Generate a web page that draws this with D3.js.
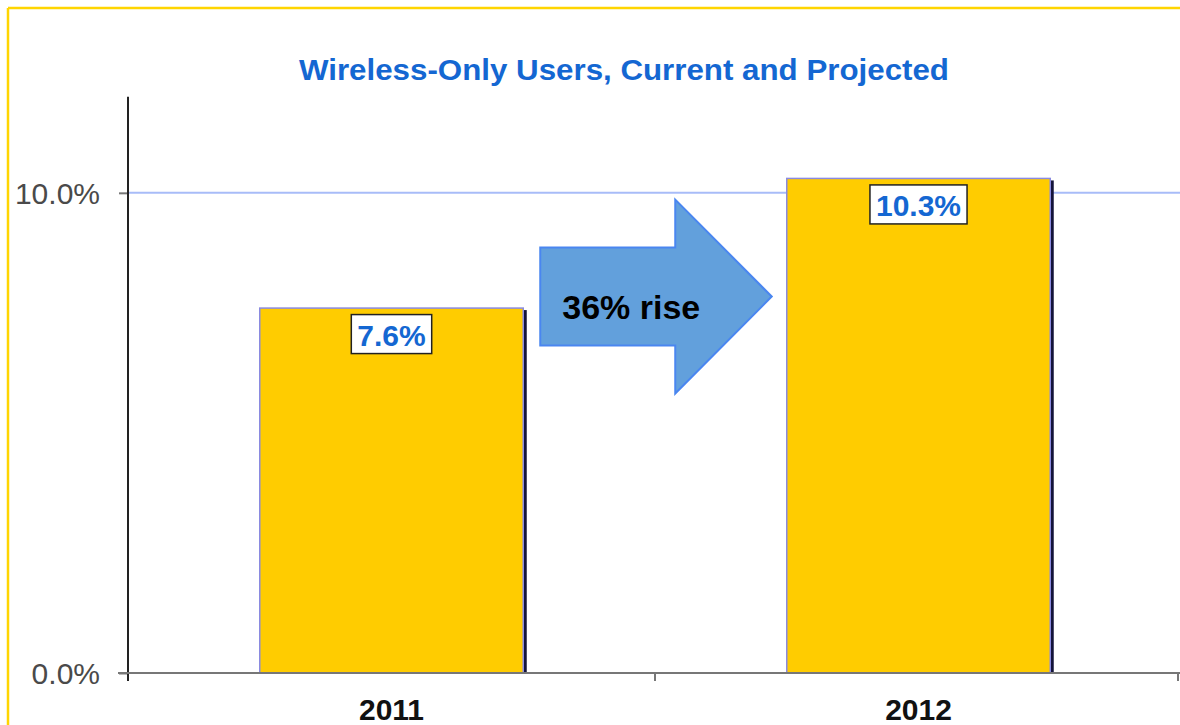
<!DOCTYPE html>
<html>
<head>
<meta charset="utf-8">
<script src="https://cdn.jsdelivr.net/npm/d3@7/dist/d3.min.js"></script>
<style>
  html, body { margin: 0; padding: 0; background: #fff; }
  svg { display: block; }
  text { font-family: "Liberation Sans", Arial, sans-serif; }
</style>
</head>
<body>
<svg id="chart" width="1180" height="725"></svg>
<script>
const categories = ["2011", "2012"];
const values = [7.6, 10.3];
const valueLabels = ["7.6%", "10.3%"];
const yTicks = [0, 10];
const yTickLabels = ["0.0%", "10.0%"];
const titleText = "Wireless-Only Users, Current and Projected";
const arrowText = "36% rise";

const W = 1180, H = 725;
const svg = d3.select("#chart");

// frame (yellow border top + left)
svg.append("line").attr("x1", 8).attr("x2", W).attr("y1", 8).attr("y2", 8)
  .attr("stroke", "#ffd500").attr("stroke-width", 2.5);
svg.append("line").attr("x1", 8).attr("x2", 8).attr("y1", 8).attr("y2", H)
  .attr("stroke", "#ffd500").attr("stroke-width", 2.5);

const plot = { left: 128, right: 1182, top: 96.8, bottom: 673 };

const x = d3.scaleBand().domain(categories)
  .range([plot.left, plot.right]).paddingInner(0.5).paddingOuter(0.25);
const y = d3.scaleLinear().domain([0, 12]).range([plot.bottom, plot.top]);

// title
svg.append("text")
  .attr("x", 624).attr("y", 80)
  .attr("text-anchor", "middle")
  .attr("font-size", 29).attr("font-weight", "bold")
  .attr("fill", "#1467d2")
  .attr("textLength", 650).attr("lengthAdjust", "spacingAndGlyphs")
  .text(titleText);

// gridline at 10%
svg.append("g").selectAll("line").data(yTicks.filter(d => d > 0)).join("line")
  .attr("x1", plot.left).attr("x2", W)
  .attr("y1", d => y(d)).attr("y2", d => y(d))
  .attr("stroke", "#a8bcf8").attr("stroke-width", 2);

// bars
const bars = svg.append("g");
categories.forEach((c, i) => {
  const bx = x(c), bw = x.bandwidth(), by = y(values[i]), bh = y(0) - y(values[i]);
  bars.append("rect")
    .attr("x", bx + bw - 1).attr("y", by + 2)
    .attr("width", 4.5).attr("height", bh - 2)
    .attr("fill", "#14143a");
  bars.append("rect")
    .attr("x", bx).attr("y", by)
    .attr("width", bw).attr("height", bh)
    .attr("fill", "#ffcc00")
    .attr("stroke", "#8a8ae0").attr("stroke-width", 1.5);
});

// y axis
const yAxis = d3.axisLeft(y).tickValues(yTicks)
  .tickFormat(d => yTickLabels[yTicks.indexOf(d)])
  .tickSize(9).tickPadding(19);
const gy = svg.append("g").attr("transform", `translate(${plot.left},0)`).call(yAxis);
gy.select(".domain").remove();
gy.selectAll(".tick line").attr("stroke", "#777").attr("stroke-width", 2);
gy.selectAll(".tick text").attr("font-size", 30).attr("fill", "#4a4a4a")
  .attr("font-family", "'Liberation Sans', Arial, sans-serif")
  .attr("dy", "0.36em");
svg.append("line").attr("x1", plot.left).attr("x2", plot.left)
  .attr("y1", plot.top).attr("y2", plot.bottom + 8)
  .attr("stroke", "#222").attr("stroke-width", 2);

// x axis
svg.append("line").attr("x1", plot.left - 10).attr("x2", W)
  .attr("y1", plot.bottom).attr("y2", plot.bottom)
  .attr("stroke", "#777").attr("stroke-width", 2);
const step = x.step();
const boundaries = d3.range(1, categories.length + 1)
  .map(i => Math.min(W - 2, plot.left + i * step));
svg.append("g").selectAll("line").data(boundaries).join("line")
  .attr("x1", d => d).attr("x2", d => d)
  .attr("y1", plot.bottom).attr("y2", plot.bottom + 8)
  .attr("stroke", "#777").attr("stroke-width", 2);

svg.append("g").selectAll("text").data(categories).join("text")
  .attr("x", d => x(d) + x.bandwidth() / 2)
  .attr("y", 720)
  .attr("text-anchor", "middle")
  .attr("font-size", 30).attr("font-weight", "bold").attr("fill", "#111")
  .text(d => d);

// value labels
categories.forEach((c, i) => {
  const cx = x(c) + x.bandwidth() / 2;
  const by = y(values[i]);
  const g = svg.append("g");
  const t = g.append("text")
    .attr("x", cx).attr("y", by + 37.5)
    .attr("text-anchor", "middle")
    .attr("font-size", 30).attr("font-weight", "bold").attr("fill", "#1467d2")
    .text(valueLabels[i]);
  const bb = t.node().getBBox();
  g.insert("rect", "text")
    .attr("x", bb.x - 6).attr("y", by + 6.5)
    .attr("width", bb.width + 12).attr("height", 39)
    .attr("fill", "#fff").attr("stroke", "#222").attr("stroke-width", 1.5);
});

// arrow annotation
const ax0 = x(categories[0]) + x.bandwidth() + 17;
const axTip = x(categories[1]) - 15;
const axHead = ax0 + 135;
const aMid = values[0] + 0.24;
const arrowPts = [
  [ax0, y(aMid + 1.02)], [axHead, y(aMid + 1.02)], [axHead, y(aMid + 2.02)],
  [axTip, y(aMid)],
  [axHead, y(aMid - 2.02)], [axHead, y(aMid - 1.02)], [ax0, y(aMid - 1.02)]
];
svg.append("path")
  .attr("d", d3.line()(arrowPts) + "Z")
  .attr("fill", "#62a0dc").attr("stroke", "#4a86f0").attr("stroke-width", 2);
svg.append("text")
  .attr("x", ax0 + 22).attr("y", y(aMid) + 22)
  .attr("font-size", 34).attr("font-weight", "bold").attr("fill", "#000")
  .text(arrowText);
</script>
</body>
</html>
